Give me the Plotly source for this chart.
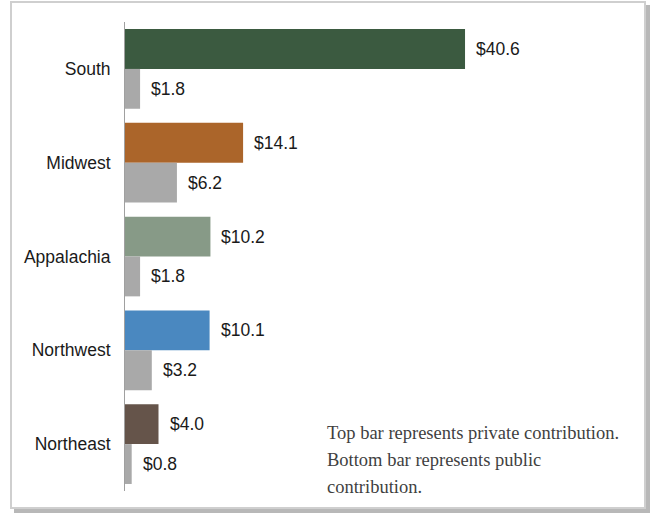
import plotly.graph_objects as go

# Regional contributions (billions of dollars)
regions = ["South", "Midwest", "Appalachia", "Northwest", "Northeast"]
private_values = [40.6, 14.1, 10.2, 10.1, 4.0]
public_values = [1.8, 6.2, 1.8, 3.2, 0.8]
private_colors = ["#3b5a40", "#ab652a", "#879a87", "#4a88c0", "#65544a"]
public_color = "#a9a9a9"
note_lines = [
    "Top bar represents private contribution.",
    "Bottom bar represents public",
    "contribution.",
]

W, H = 652, 515
LABEL_FONT = dict(family="Liberation Sans, Arial", size=17.5, color="#1a1a1a")

fig = go.Figure()

fig.add_trace(go.Bar(
    y=regions, x=private_values, orientation="h",
    marker=dict(color=private_colors, line=dict(width=0)),
    name="Private", hoverinfo="skip",
))
fig.add_trace(go.Bar(
    y=regions, x=public_values, orientation="h",
    marker=dict(color=public_color, line=dict(width=0)),
    name="Public", hoverinfo="skip",
))

# Value labels placed just past each bar end
annotations = []
for i, r in enumerate(regions):
    annotations.append(dict(
        x=private_values[i], y=i - 0.2125, xref="x", yref="y",
        text=f"${private_values[i]:.1f}", showarrow=False,
        xanchor="left", yanchor="middle", xshift=9,
        font=LABEL_FONT,
    ))
    annotations.append(dict(
        x=public_values[i], y=i + 0.2125, xref="x", yref="y",
        text=f"${public_values[i]:.1f}", showarrow=False,
        xanchor="left", yanchor="middle", xshift=9,
        font=LABEL_FONT,
    ))

# Explanatory note
for k, line in enumerate(note_lines):
    annotations.append(dict(
        x=325 / W, y=1 - (433 + 27 * k) / H, xref="paper", yref="paper",
        text=line, showarrow=False, xanchor="left", yanchor="middle",
        font=dict(family="Liberation Serif, Times New Roman", size=18.5, color="#3f3f3f"),
    ))

# Outer frame with drop shadow
shapes = [
    dict(type="rect", xref="paper", yref="paper",
         x0=14 / W, x1=650 / W, y0=1 - 513 / H, y1=1 - 5 / H,
         fillcolor="#b8b8b8", line=dict(width=0), layer="below"),
    dict(type="rect", xref="paper", yref="paper",
         x0=11 / W, x1=645 / W, y0=1 - 508 / H, y1=1 - 2 / H,
         fillcolor="white", line=dict(color="#cfcfcf", width=2), layer="below"),
]

fig.update_layout(
    width=W, height=H,
    margin=dict(l=0, r=0, t=0, b=0),
    paper_bgcolor="white", plot_bgcolor="rgba(0,0,0,0)",
    barmode="group", bargap=0.15, bargroupgap=0,
    showlegend=False,
    annotations=annotations,
    shapes=shapes,
    xaxis=dict(domain=[125 / W, 625 / W], range=[0, 59.7],
               visible=False, fixedrange=True),
    yaxis=dict(domain=[1 - 491 / H, 1 - 22 / H], autorange="reversed",
               showline=True, linecolor="#a0a0a0", linewidth=1,
               showgrid=False, ticks="", ticklabelstandoff=10,
               tickfont=LABEL_FONT),
)

fig.write_html("out.html")
